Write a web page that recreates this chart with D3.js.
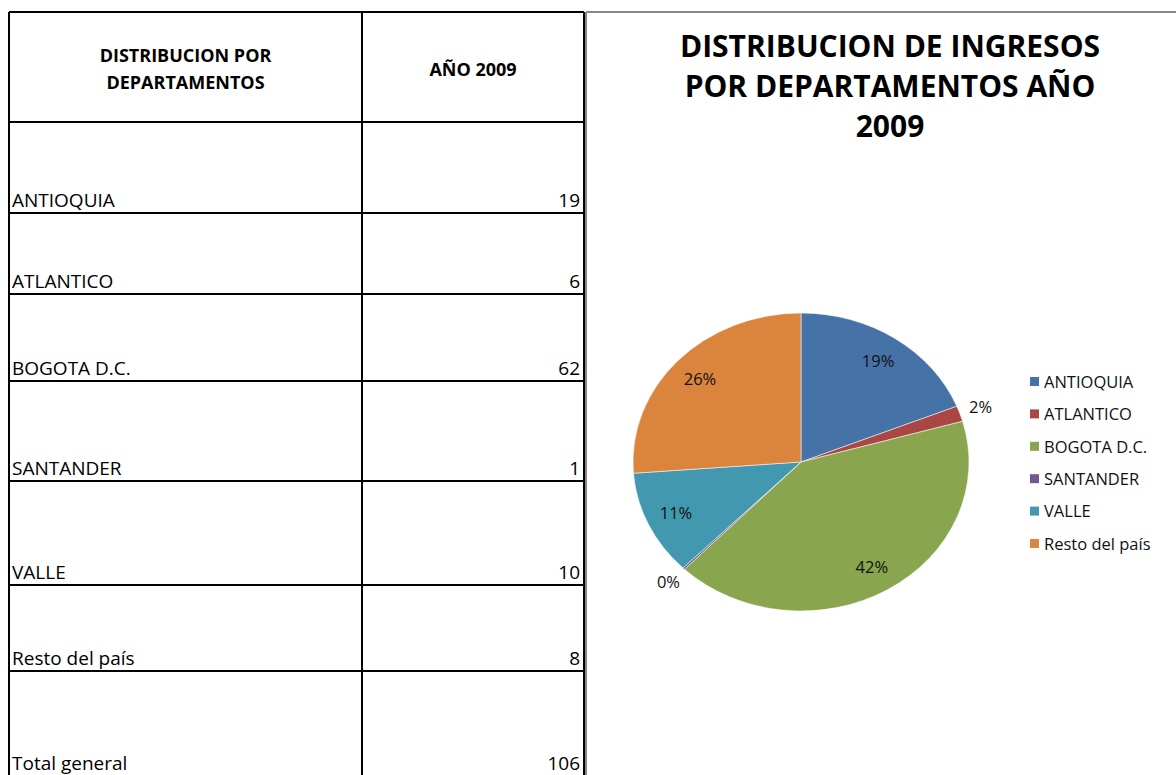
<!DOCTYPE html>
<html>
<head>
<meta charset="UTF-8" />
<script src="https://cdn.jsdelivr.net/npm/d3@7"></script>
<title>Distribucion de ingresos</title>
<style>
  body { margin: 0; background: #fff; }
  svg { display: block; font-family: "Open Sans", Lato, sans-serif; }
</style>
</head>
<body>
<div id="chart"></div>
<script>
// table data
const departments = ["ANTIOQUIA", "ATLANTICO", "BOGOTA D.C.", "SANTANDER", "VALLE", "Resto del país"];
const tableValues = [19, 6, 62, 1, 10, 8];
const totalLabel = "Total general";
const totalValue = 106;
// pie data (share in %)
const pieValues = [18.9, 1.7, 41.6, 0.2, 11.4, 26.2];
const colors = ["#4572A7", "#AA4643", "#89A54E", "#71588F", "#4198AF", "#DB843D"];

const W = 1176, H = 775;
const svg = d3.select("#chart").append("svg").attr("width", W).attr("height", H);

// ---- table ----
const rowEdges = [12, 122, 213, 294, 381, 481, 585, 671, 776];
const colX = [9, 362, 584];
const tbl = svg.append("g");

const rows = departments.map((d, i) => ({name: d, value: tableValues[i]}));
rows.push({name: totalLabel, value: totalValue});

// horizontal lines
tbl.selectAll("line.h").data(rowEdges.slice(0, -1)).enter().append("line")
  .attr("x1", colX[0]).attr("x2", colX[2])
  .attr("y1", d => d).attr("y2", d => d)
  .attr("stroke", "#000").attr("stroke-width", 2);
// vertical lines
tbl.selectAll("line.v").data(colX).enter().append("line")
  .attr("x1", d => d).attr("x2", d => d)
  .attr("y1", rowEdges[0]).attr("y2", H)
  .attr("stroke", "#000").attr("stroke-width", 2);

// header
const head = tbl.append("g").attr("font-weight", "bold").attr("font-size", 18).attr("text-anchor", "middle");
head.append("text").attr("x", (colX[0] + colX[1]) / 2).attr("y", 62).text("DISTRIBUCION POR");
head.append("text").attr("x", (colX[0] + colX[1]) / 2).attr("y", 89).text("DEPARTAMENTOS");
head.append("text").attr("x", (colX[1] + colX[2]) / 2).attr("y", 76).text("AÑO 2009");

tbl.selectAll("text.name").data(rows).enter().append("text")
  .attr("x", colX[0] + 3).attr("y", (d, i) => rowEdges[i + 2] - 6)
  .attr("font-size", 19).text(d => d.name);
tbl.selectAll("text.val").data(rows).enter().append("text")
  .attr("x", colX[2] - 4).attr("y", (d, i) => rowEdges[i + 2] - 6)
  .attr("text-anchor", "end").attr("font-size", 19).text(d => d.value);

// ---- chart area ----
svg.append("line").attr("x1", 586).attr("x2", 586).attr("y1", 12).attr("y2", H)
  .attr("stroke", "#888").attr("stroke-width", 2);
svg.append("line").attr("x1", 586).attr("x2", W).attr("y1", 12).attr("y2", 12)
  .attr("stroke", "#888").attr("stroke-width", 2);

const title = svg.append("g").attr("font-weight", "bold").attr("font-size", 30).attr("text-anchor", "middle");
["DISTRIBUCION DE INGRESOS", "POR DEPARTAMENTOS AÑO", "2009"].forEach((t, i) => {
  title.append("text").attr("x", 890).attr("y", 57 + i * 40).text(t);
});

// pie
const cx = 801, cy = 462, ry = 149, sx = 168 / 149;
const pie = d3.pie().sort(null)(pieValues);
const arc = d3.arc().innerRadius(0).outerRadius(ry);
const total = d3.sum(pieValues);

svg.append("g").attr("transform", `translate(${cx},${cy}) scale(${sx},1)`)
  .selectAll("path").data(pie).enter().append("path")
  .attr("d", arc).attr("fill", (d, i) => colors[i])
  .attr("stroke", "#fff").attr("stroke-width", 0.5);

const labelArc = d3.arc().innerRadius(ry * 0.82).outerRadius(ry * 0.82);
const outArc = d3.arc().innerRadius(ry * 1.13).outerRadius(ry * 1.13);
svg.append("g").attr("transform", `translate(${cx},${cy})`)
  .selectAll("text").data(pie).enter().append("text")
  .attr("transform", d => {
    const share = d.value / total;
    const c = (share < 0.05 ? outArc : labelArc).centroid(d);
    return `translate(${c[0] * sx},${c[1]})`;
  })
  .attr("text-anchor", "middle").attr("dy", "0.35em")
  .attr("font-size", 16.5).attr("fill", "#111")
  .text(d => Math.round(d.value / total * 100) + "%");

// legend
const leg = svg.append("g").attr("transform", "translate(1030,382)");
const li = leg.selectAll("g").data(departments).enter().append("g")
  .attr("transform", (d, i) => `translate(0,${i * 32.4})`);
li.append("rect").attr("x", 0).attr("y", -5).attr("width", 9).attr("height", 9)
  .attr("fill", (d, i) => colors[i]);
li.append("text").attr("x", 14).attr("y", 0).attr("dy", "0.35em")
  .attr("font-size", 16.5).attr("fill", "#111").text(d => d);
</script>
</body>
</html>
